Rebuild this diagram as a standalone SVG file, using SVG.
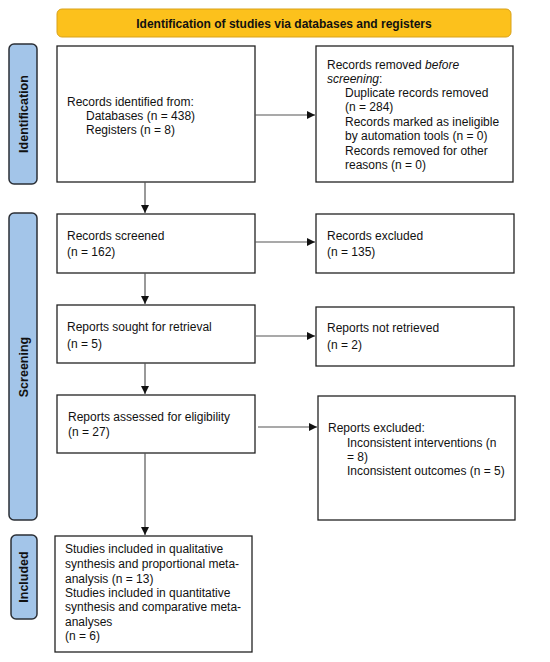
<svg xmlns="http://www.w3.org/2000/svg" width="550" height="662" viewBox="0 0 550 662">
<defs>
<marker id="ah" markerWidth="8" markerHeight="8" refX="8" refY="4" orient="auto" markerUnits="userSpaceOnUse">
<path d="M0,0 L8,4 L0,8 Z" fill="#111"/>
</marker>
<style>
.box{fill:#fff;stroke:#222;stroke-width:1.3}
.side{fill:#a3c5e9;stroke:#2b2f36;stroke-width:1.5}
.t{font-family:"Liberation Sans",Arial,sans-serif;font-size:12px;fill:#111}
.b{font-family:"Liberation Sans",Arial,sans-serif;font-size:12.5px;font-weight:bold;fill:#111}
.c{fill:none;stroke:#555;stroke-width:1.2}
</style>
</defs>
<rect width="550" height="662" fill="#fff"/>
<g id="header">
<rect x="57" y="9" width="454" height="28" rx="5" fill="#fcc11c" stroke="#d9a21a" stroke-width="1"/>
<text class="b" x="284" y="27.5" text-anchor="middle" style="font-size:12px">Identification of studies via databases and registers</text>
</g>
<g id="side-identification">
<rect class="side" x="9" y="44" width="28" height="140" rx="5"/>
<text class="b" transform="translate(27.5,114) rotate(-90)" text-anchor="middle">Identification</text>
</g>
<g id="side-screening">
<rect class="side" x="9" y="213" width="28" height="307" rx="5"/>
<text class="b" transform="translate(27.5,367) rotate(-90)" text-anchor="middle">Screening</text>
</g>
<g id="side-included">
<rect class="side" x="11" y="535" width="26" height="84" rx="5"/>
<text class="b" transform="translate(28,577) rotate(-90)" text-anchor="middle">Included</text>
</g>
<g id="records-identified">
<rect class="box" x="57" y="46" width="198" height="136"/>
<text class="t" x="67" y="106">Records identified from:</text>
<text class="t" x="86" y="120">Databases (n = 438)</text>
<text class="t" x="86" y="134">Registers (n = 8)</text>
</g>
<g id="records-removed">
<rect class="box" x="316" y="46" width="197" height="136"/>
<text class="t" x="327" y="69">Records removed <tspan font-style="italic">before</tspan></text>
<text class="t" x="327" y="83"><tspan font-style="italic">screening</tspan>:</text>
<text class="t" x="345" y="97">Duplicate records removed</text>
<text class="t" x="345" y="111">(n = 284)</text>
<text class="t" x="345" y="126">Records marked as ineligible</text>
<text class="t" x="345" y="140">by automation tools (n = 0)</text>
<text class="t" x="345" y="155">Records removed for other</text>
<text class="t" x="345" y="169">reasons (n = 0)</text>
</g>
<g id="records-screened">
<rect class="box" x="57" y="214" width="198" height="59"/>
<text class="t" x="67" y="240">Records screened</text>
<text class="t" x="67" y="256">(n = 162)</text>
</g>
<g id="records-excluded">
<rect class="box" x="316" y="214" width="198" height="59"/>
<text class="t" x="327" y="240">Records excluded</text>
<text class="t" x="327" y="256">(n = 135)</text>
</g>
<g id="reports-sought">
<rect class="box" x="57" y="305" width="198" height="58"/>
<text class="t" x="67" y="331">Reports sought for retrieval</text>
<text class="t" x="67" y="348">(n = 5)</text>
</g>
<g id="reports-not-retrieved">
<rect class="box" x="316" y="307" width="198" height="59"/>
<text class="t" x="327" y="332">Reports not retrieved</text>
<text class="t" x="327" y="349">(n = 2)</text>
</g>
<g id="reports-assessed">
<rect class="box" x="57" y="395" width="198" height="58"/>
<text class="t" x="68" y="421">Reports assessed for eligibility</text>
<text class="t" x="68" y="436">(n = 27)</text>
</g>
<g id="reports-excluded">
<rect class="box" x="318" y="396" width="197" height="124"/>
<text class="t" x="328" y="432">Reports excluded:</text>
<text class="t" x="347" y="447">Inconsistent interventions (n</text>
<text class="t" x="347" y="461">= 8)</text>
<text class="t" x="347" y="475">Inconsistent outcomes (n = 5)</text>
</g>
<g id="studies-included">
<rect class="box" x="55" y="536" width="197" height="116"/>
<text class="t" x="65" y="553">Studies included in qualitative</text>
<text class="t" x="65" y="568">synthesis and proportional meta-</text>
<text class="t" x="65" y="583">analysis (n = 13)</text>
<text class="t" x="65" y="597">Studies included in quantitative</text>
<text class="t" x="65" y="611">synthesis and comparative meta-</text>
<text class="t" x="65" y="626">analyses</text>
<text class="t" x="65" y="640">(n = 6)</text>
</g>
<g id="connectors">
<line class="c" x1="255" y1="115" x2="315" y2="115" marker-end="url(#ah)"/>
<line class="c" x1="145" y1="182" x2="145" y2="213" marker-end="url(#ah)"/>
<line class="c" x1="255" y1="242" x2="315" y2="242" marker-end="url(#ah)"/>
<line class="c" x1="145" y1="273" x2="145" y2="304" marker-end="url(#ah)"/>
<line class="c" x1="256" y1="336" x2="315" y2="336" marker-end="url(#ah)"/>
<line class="c" x1="145" y1="363" x2="145" y2="394" marker-end="url(#ah)"/>
<line class="c" x1="258" y1="427" x2="317" y2="427" marker-end="url(#ah)"/>
<line class="c" x1="145" y1="453" x2="145" y2="535" marker-end="url(#ah)"/>
</g>
</svg>
